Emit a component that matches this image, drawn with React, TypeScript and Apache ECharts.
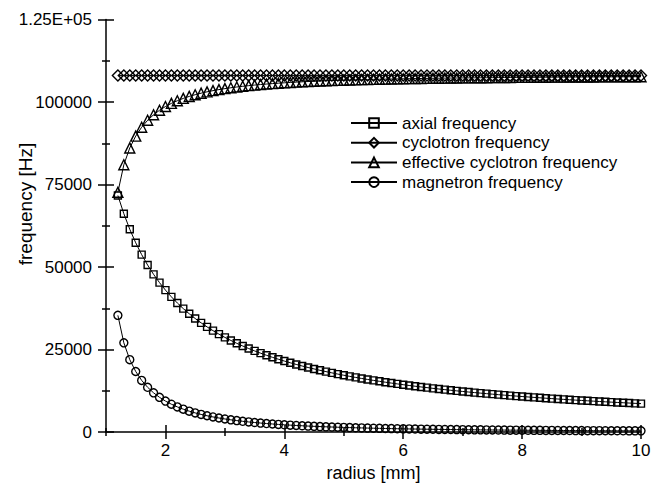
import React, { useEffect, useRef } from "react";
import * as echarts from "echarts";

const radius = [
  1.2, 1.3, 1.4, 1.5, 1.6, 1.7, 1.8, 1.9, 2.0, 2.1, 2.2, 2.3, 2.4, 2.5, 2.6, 2.7, 2.8, 2.9, 3.0,
  3.1, 3.2, 3.3, 3.4, 3.5, 3.6, 3.7, 3.8, 3.9, 4.0,
  4.1, 4.2, 4.3, 4.4, 4.5, 4.6, 4.7, 4.8, 4.9, 5.0,
  5.1, 5.2, 5.3, 5.4, 5.5, 5.6, 5.7, 5.8, 5.9, 6.0,
  6.1, 6.2, 6.3, 6.4, 6.5, 6.6, 6.7, 6.8, 6.9, 7.0,
  7.1, 7.2, 7.3, 7.4, 7.5, 7.6, 7.7, 7.8, 7.9, 8.0,
  8.1, 8.2, 8.3, 8.4, 8.5, 8.6, 8.7, 8.8, 8.9, 9.0,
  9.1, 9.2, 9.3, 9.4, 9.5, 9.6, 9.7, 9.8, 9.9, 10.0,
];

const axialFrequency = [
  71667, 66154, 61429, 57333, 53750, 50588, 47778, 45263, 43000, 40952, 39091, 37391, 35833, 34400, 33077, 31852, 30714, 29655, 28667,
  27742, 26875, 26061, 25294, 24571, 23889, 23243, 22632, 22051, 21500,
  20976, 20476, 20000, 19545, 19111, 18696, 18298, 17917, 17551, 17200,
  16863, 16538, 16226, 15926, 15636, 15357, 15088, 14828, 14576, 14333,
  14098, 13871, 13651, 13438, 13231, 13030, 12836, 12647, 12464, 12286,
  12113, 11944, 11781, 11622, 11467, 11316, 11169, 11026, 10886, 10750,
  10617, 10488, 10361, 10238, 10118, 10000, 9885, 9773, 9663, 9556,
  9451, 9348, 9247, 9149, 9053, 8958, 8866, 8776, 8687, 8600,
];

const cyclotronFrequency = [
  108000, 108000, 108000, 108000, 108000, 108000, 108000, 108000, 108000, 108000, 108000, 108000, 108000, 108000, 108000, 108000, 108000, 108000, 108000,
  108000, 108000, 108000, 108000, 108000, 108000, 108000, 108000, 108000, 108000,
  108000, 108000, 108000, 108000, 108000, 108000, 108000, 108000, 108000, 108000,
  108000, 108000, 108000, 108000, 108000, 108000, 108000, 108000, 108000, 108000,
  108000, 108000, 108000, 108000, 108000, 108000, 108000, 108000, 108000, 108000,
  108000, 108000, 108000, 108000, 108000, 108000, 108000, 108000, 108000, 108000,
  108000, 108000, 108000, 108000, 108000, 108000, 108000, 108000, 108000, 108000,
  108000, 108000, 108000, 108000, 108000, 108000, 108000, 108000, 108000, 108000,
];

const effectiveCyclotronFrequency = [
  72653, 80978, 86083, 89671, 92360, 94453, 96127, 97493, 98626, 99579, 100389, 101084, 101686, 102211, 102672, 103079, 103440, 103762, 104051,
  104311, 104546, 104758, 104952, 105128, 105290, 105438, 105574, 105700, 105816,
  105923, 106023, 106115, 106201, 106282, 106357, 106427, 106493, 106555, 106613,
  106667, 106719, 106767, 106813, 106856, 106897, 106936, 106972, 107007, 107040,
  107072, 107102, 107130, 107157, 107183, 107208, 107232, 107254, 107276, 107297,
  107316, 107335, 107354, 107371, 107388, 107404, 107419, 107434, 107449, 107462,
  107476, 107488, 107501, 107512, 107524, 107535, 107546, 107556, 107566, 107576,
  107585, 107594, 107603, 107611, 107619, 107627, 107635, 107642, 107649, 107657,
];

const magnetronFrequency = [
  35347, 27022, 21917, 18329, 15640, 13547, 11873, 10507, 9374, 8421, 7611, 6916, 6314, 5789, 5328, 4921, 4560, 4238, 3949,
  3689, 3454, 3242, 3048, 2872, 2710, 2562, 2426, 2300, 2184,
  2077, 1977, 1885, 1799, 1718, 1643, 1573, 1507, 1445, 1387,
  1333, 1281, 1233, 1187, 1144, 1103, 1064, 1028, 993, 960,
  928, 898, 870, 843, 817, 792, 768, 746, 724, 703,
  684, 665, 646, 629, 612, 596, 581, 566, 551, 538,
  524, 512, 499, 488, 476, 465, 454, 444, 434, 424,
  415, 406, 397, 389, 381, 373, 365, 358, 351, 343,
];

const seriesNames = [
  "axial frequency",
  "cyclotron frequency",
  "effective cyclotron frequency",
  "magnetron frequency",
];

const xMajorTicks = [2, 4, 6, 8, 10];
const xMinorTicks = [1, 3, 5, 7, 9];
const yMajorTicks = [0, 25000, 50000, 75000, 100000, 125000];
const yMinorTicks = [12500, 37500, 62500, 87500, 112500];
const yTickLabels = ["0", "25000", "50000", "75000", "100000", "1.25E+05"];

const FONT = "'Liberation Sans', Arial, Helvetica, sans-serif";

export default function App() {
  const ref = useRef<HTMLDivElement>(null);

  useEffect(() => {
    if (!ref.current) return;
    const chart = echarts.init(ref.current, null, { renderer: "svg" });

    const tickStyle = { color: "#000", width: 1.5 };

    const xBase = (extra: any) => ({
      type: "value",
      min: 1,
      max: 10,
      interval: 1,
      position: "bottom",
      splitLine: { show: false },
      axisLine: { show: false, onZero: false },
      axisLabel: { show: false },
      ...extra,
    });
    const yBase = (extra: any) => ({
      type: "value",
      min: 0,
      max: 125000,
      interval: 12500,
      position: "left",
      splitLine: { show: false },
      axisLine: { show: false, onZero: false },
      axisLabel: { show: false },
      ...extra,
    });

    const mk = (
      name: string,
      values: number[],
      symbol: string,
      size: number | number[]
    ) => ({
      name,
      type: "line",
      xAxisIndex: 0,
      yAxisIndex: 0,
      data: radius.map((r, i) => [r, values[i]]),
      symbol,
      symbolSize: size,
      showAllSymbol: true,
      lineStyle: { color: "#000", width: 1 },
      itemStyle: { color: "rgba(0,0,0,0)", borderColor: "#000", borderWidth: 1.4 },
      emphasis: { disabled: true },
    });

    chart.setOption({
      animation: false,
      backgroundColor: "#fff",
      grid: { left: 106, right: 10, top: 19.5, bottom: 52, containLabel: false, outerBoundsMode: "none" },
      xAxis: [
        xBase({
          name: "radius [mm]",
          nameLocation: "middle",
          nameGap: 30,
          nameTextStyle: { fontSize: 18, color: "#000", fontFamily: FONT },
          axisLine: { show: true, onZero: false, lineStyle: { color: "#000", width: 1.5 } },
          axisTick: { show: true, inside: false, length: 7, customValues: xMajorTicks, lineStyle: tickStyle },
          axisLabel: {
            show: true,
            customValues: xMajorTicks,
            margin: 10,
            fontSize: 17,
            color: "#000",
            fontFamily: FONT,
          },
        }),
        xBase({ axisTick: { show: true, inside: true, length: 7, customValues: xMajorTicks, lineStyle: tickStyle } }),
        xBase({ axisTick: { show: true, inside: false, length: 4, customValues: xMinorTicks, lineStyle: tickStyle } }),
        xBase({ axisTick: { show: true, inside: true, length: 4, customValues: xMinorTicks, lineStyle: tickStyle } }),
      ],
      yAxis: [
        yBase({
          axisLine: { show: true, onZero: false, lineStyle: { color: "#000", width: 1.5 } },
          axisTick: { show: true, inside: false, length: 8, customValues: yMajorTicks, lineStyle: tickStyle },
          axisLabel: {
            show: true,
            customValues: yMajorTicks,
            margin: 14,
            fontSize: 17,
            color: "#000",
            fontFamily: FONT,
            formatter: (v: number) => yTickLabels[yMajorTicks.indexOf(v)] ?? String(v),
          },
        }),
        yBase({ axisTick: { show: true, inside: true, length: 8, customValues: yMajorTicks, lineStyle: tickStyle } }),
        yBase({ axisTick: { show: true, inside: false, length: 4, customValues: yMinorTicks, lineStyle: tickStyle } }),
        yBase({ axisTick: { show: true, inside: true, length: 4, customValues: yMinorTicks, lineStyle: tickStyle } }),
      ],
      legend: {
        orient: "vertical",
        left: 350,
        top: 114.5,
        itemWidth: 46,
        itemHeight: 12,
        itemGap: 2.7,
        padding: 0,
        selectedMode: false,
        data: seriesNames,
        textStyle: { fontSize: 17, lineHeight: 14, color: "#000", fontFamily: FONT },
      },
      graphic: [
        {
          type: "text",
          x: 25,
          y: 204,
          rotation: Math.PI / 2,
          style: {
            text: "frequency [Hz]",
            font: `19px ${FONT}`,
            fill: "#000",
            textAlign: "center",
            textVerticalAlign: "middle",
          },
        },
      ],
      series: [
        mk(seriesNames[0], axialFrequency, "rect", 7),
        mk(seriesNames[1], cyclotronFrequency, "diamond", 11),
        mk(seriesNames[2], effectiveCyclotronFrequency, "triangle", 10),
        mk(seriesNames[3], magnetronFrequency, "circle", 8),
      ],
    });

    return () => chart.dispose();
  }, []);

  return (
    <div
      ref={ref}
      style={{ position: "fixed", left: 0, top: 0, width: 651, height: 484, background: "#fff" }}
    />
  );
}
